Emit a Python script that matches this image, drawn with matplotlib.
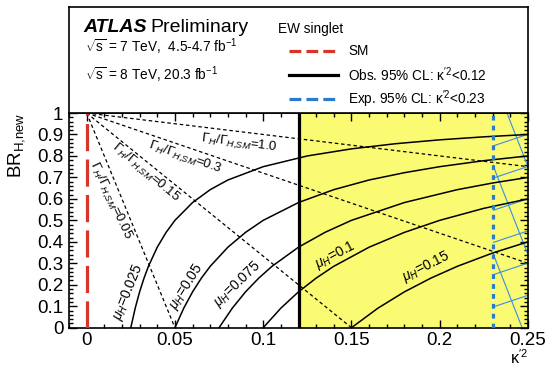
import matplotlib
matplotlib.use("Agg")
import matplotlib.pyplot as plt
from matplotlib.patches import Rectangle
from matplotlib.ticker import MultipleLocator

plt.rcParams['font.family'] = ['Liberation Sans', 'DejaVu Sans']
plt.rcParams['mathtext.fontset'] = 'custom'
plt.rcParams['mathtext.rm'] = 'Liberation Sans'
plt.rcParams['mathtext.it'] = 'Liberation Sans:italic'
plt.rcParams['mathtext.bf'] = 'Liberation Sans:bold'
plt.rcParams['mathtext.sf'] = 'Liberation Sans'

# ---------------- data ----------------
sm_kappa2 = 0.0
obs_limit = 0.12
exp_limit = 0.23

x_ticks = [0.0, 0.05, 0.10, 0.15, 0.20, 0.25]
x_ticklabels = ["0", "0.05", "0.1", "0.15", "0.2", "0.25"]
y_ticks = [0.0, 0.1, 0.2, 0.3, 0.4, 0.5, 0.6, 0.7, 0.8, 0.9, 1.0]
y_ticklabels = ["0", "0.1", "0.2", "0.3", "0.4", "0.5", "0.6", "0.7", "0.8", "0.9", "1"]

# constant width ratio lines (dashed)
gamma_labels = ["0.05", "0.15", "0.3", "1.0"]
gamma_x = [[0.0, 0.05], [0.0, 0.15], [0.0, 0.25], [0.0, 0.25]]
gamma_y = [[1.0, 0.0], [1.0, 0.0], [1.0, 0.30], [1.0, 0.75]]

# constant signal strength curves (solid)
mu_labels = ["0.025", "0.05", "0.075", "0.1", "0.15"]
mu_x_0025 = [0.025, 0.0275, 0.03, 0.0325, 0.035, 0.04, 0.045, 0.05, 0.06, 0.07, 0.08,
             0.10, 0.125, 0.15, 0.175, 0.20, 0.225, 0.25]
mu_y_0025 = [0.0, 0.091, 0.167, 0.231, 0.286, 0.375, 0.444, 0.50, 0.583, 0.643, 0.688,
             0.75, 0.80, 0.833, 0.857, 0.875, 0.889, 0.90]
mu_x_005 = [0.05, 0.055, 0.06, 0.065, 0.07, 0.08, 0.09, 0.10, 0.12, 0.14, 0.16, 0.18,
            0.20, 0.225, 0.25]
mu_y_005 = [0.0, 0.091, 0.167, 0.231, 0.286, 0.375, 0.444, 0.50, 0.583, 0.643, 0.688,
            0.722, 0.75, 0.778, 0.80]
mu_x_0075 = [0.075, 0.0825, 0.09, 0.0975, 0.105, 0.12, 0.135, 0.15, 0.18, 0.21, 0.23, 0.25]
mu_y_0075 = [0.0, 0.091, 0.167, 0.231, 0.286, 0.375, 0.444, 0.50, 0.583, 0.643, 0.674, 0.70]
mu_x_01 = [0.10, 0.11, 0.12, 0.13, 0.14, 0.16, 0.18, 0.20, 0.225, 0.25]
mu_y_01 = [0.0, 0.091, 0.167, 0.231, 0.286, 0.375, 0.444, 0.50, 0.556, 0.60]
mu_x_015 = [0.15, 0.165, 0.18, 0.195, 0.21, 0.23, 0.25]
mu_y_015 = [0.0, 0.091, 0.167, 0.231, 0.286, 0.348, 0.40]
mu_x = [mu_x_0025, mu_x_005, mu_x_0075, mu_x_01, mu_x_015]
mu_y = [mu_y_0025, mu_y_005, mu_y_0075, mu_y_01, mu_y_015]

# ---------------- style ----------------
yellow = '#fafa73'
red = '#d8352a'
blue = '#2b7bcc'
hatch_blue = '#3a8ee0'

gamma_label_pos = [(0.0135, 0.590, -65), (0.0335, 0.723, -40), (0.0557, 0.793, -19), (0.0866, 0.856, -7)]
mu_label_pos = [(0.0236, 0.166, 68), (0.0568, 0.194, 58), (0.0855, 0.201, 44), (0.141, 0.339, 28), (0.1926, 0.285, 27)]

W, H = 547, 367
fig = plt.figure(figsize=(W / 100, H / 100), dpi=100)

ax_l, ax_r, ax_t, ax_b = 69, 528, 113, 327.7
ax = fig.add_axes([ax_l / W, 1 - ax_b / H, (ax_r - ax_l) / W, (ax_b - ax_t) / H])
ax.set_xlim(-0.01, 0.25)
ax.set_ylim(0, 1)

# excluded region (observed)
ax.axvspan(obs_limit, 0.25, color=yellow, zorder=0, lw=0)

# hatched region beyond expected limit
clip = Rectangle((exp_limit, 0), 0.25 - exp_limit, 1.0, transform=ax.transData,
                 facecolor='none', edgecolor='none')
ax.add_patch(clip)
shallow_starts = [0.096, 0.246, 0.396, 0.546, 0.696, 0.846]
for y0 in shallow_starts:
    ln, = ax.plot([exp_limit, 0.25], [y0, y0 + 0.055], color=hatch_blue, lw=0.8, zorder=2)
    ln.set_clip_path(clip)
steep_starts = [1.17, 0.76, 0.35]
for y0 in steep_starts:
    ln, = ax.plot([exp_limit, 0.25], [y0, y0 - 0.42], color=hatch_blue, lw=0.8, zorder=2)
    ln.set_clip_path(clip)

# gamma lines
for gx, gy in zip(gamma_x, gamma_y):
    ax.plot(gx, gy, color='black', lw=0.9, ls=(0, (2.8, 2.2)), zorder=3)

# mu curves
for mx, my in zip(mu_x, mu_y):
    ax.plot(mx, my, color='black', lw=1.1, zorder=3)

# SM, observed, expected
sm_line = ax.axvline(sm_kappa2, color=red, lw=2.3, ls=(0, (8.5, 2.6)), zorder=4)
obs_line = ax.axvline(obs_limit, color='black', lw=2.3, zorder=4)
exp_line = ax.axvline(exp_limit, color=blue, lw=2.3, ls=(0, (1.5, 1.6)), zorder=4)

# labels on lines
for lab, (x, y, r) in zip(gamma_labels, gamma_label_pos):
    ax.text(x, y, r"$\Gamma_{H}/\Gamma_{H{,}SM}$=" + lab, rotation=r, rotation_mode='anchor',
            ha='center', va='center', fontsize=9.5, zorder=5)
for lab, (x, y, r) in zip(mu_labels, mu_label_pos):
    ax.text(x, y, r"$\mu_{H}$=" + lab, rotation=r, rotation_mode='anchor',
            ha='center', va='center', fontsize=10, zorder=5)

# ticks
ax.set_xticks(x_ticks)
ax.set_xticklabels(x_ticklabels)
ax.set_yticks(y_ticks)
ax.set_yticklabels(y_ticklabels)
ax.xaxis.set_minor_locator(MultipleLocator(0.01))
ax.yaxis.set_minor_locator(MultipleLocator(0.02))
ax.tick_params(which='both', direction='in', top=True, right=True, width=1.0, labelsize=13.5)
ax.tick_params(which='major', length=5.8)
ax.tick_params(which='minor', length=2.9)
ax.tick_params(axis='x', pad=3)
ax.tick_params(axis='y', pad=4)
for s in ax.spines.values():
    s.set_linewidth(1.2)

fig.text(17 / W, 1 - ax_t / H, r"BR$_{\mathregular{H{,}new}}$", rotation=90, ha='center', va='top', fontsize=13.5)
fig.text(ax_r / W, 0.5 / H, r"$\mathregular{κ^{\prime 2}}$", ha='right', va='bottom', fontsize=11.5)

# header box
box = fig.add_axes([ax_l / W, 1 - ax_t / H, (ax_r - ax_l) / W, (ax_t - 7) / H])
box.set_xlim(ax_l, ax_r)
box.set_ylim(ax_t, 7)
box.set_xticks([])
box.set_yticks([])
for s in box.spines.values():
    s.set_linewidth(1.2)

box.text(83, 32.5, "ATLAS", fontsize=14, fontweight='bold', style='italic', va='baseline')
box.text(150, 32.5, "Preliminary", fontsize=14, va='baseline')
box.text(85, 52.5, r"$\sqrt{\mathregular{s}}$ = 7 TeV,  4.5-4.7 fb$^{\mathregular{-1}}$", fontsize=9.8, va='baseline')
box.text(85, 80.5, r"$\sqrt{\mathregular{s}}$ = 8 TeV, 20.3 fb$^{\mathregular{-1}}$", fontsize=9.8, va='baseline')
box.text(278, 33.3, "EW singlet", fontsize=9.8, va='baseline')

leg_rows = [(51, sm_line, "SM"),
            (75, obs_line, r"Obs. 95% CL: $\mathregular{κ^{\prime 2}}$<0.12"),
            (99, exp_line, r"Exp. 95% CL: $\mathregular{κ^{\prime 2}}$<0.23")]
for y, h, lab in leg_rows:
    box.plot([289, 338], [y, y], color=h.get_color(), lw=h.get_linewidth(), ls=h.get_linestyle())
    box.text(348, y, lab, fontsize=9.8, va='center')

fig.savefig("out.png", dpi=100)
